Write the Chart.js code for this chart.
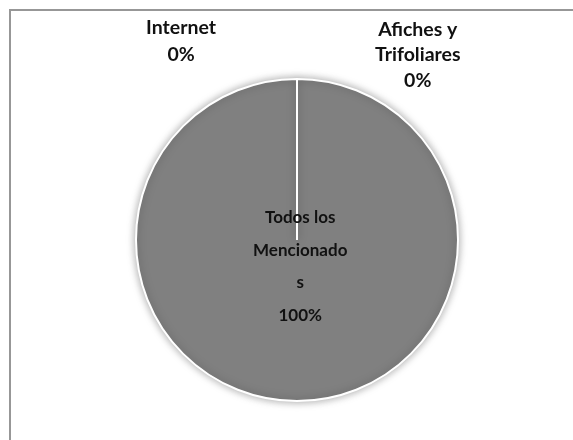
<!DOCTYPE html>
<html>
<head>
<meta charset="utf-8">
<script src="https://cdn.jsdelivr.net/npm/chart.js@4/dist/chart.umd.min.js"></script>
<style>
  html, body { margin: 0; padding: 0; background: #fff; overflow: hidden; }
  #frame {
    position: absolute; left: 9px; top: 9px; width: 620px; height: 480px;
    border: 2px solid #979797; box-sizing: border-box;
  }
  #wrap { position: absolute; left: 0; top: 0; width: 573px; height: 440px; }
</style>
</head>
<body>
<div id="frame"></div>
<div id="wrap"><canvas id="myChart"></canvas></div>
<script>
const categories = ['Internet', 'Afiches y Trifoliares', 'Todos los Mencionados']
const values = [0, 0, 100]
const percentLabels = ['0%', '0%', '100%']
// label text as it wraps on the chart
const labelLines = [
    ['Internet', '0%'],
    ['Afiches y', 'Trifoliares', '0%'],
    ['Todos los', 'Mencionado', 's', '100%']
]

// soft halo round the pie
const pieShadow = {
    id: 'pieShadow',
    beforeDatasetDraw(chart) {
        const ctx = chart.ctx
        ctx.save()
        ctx.shadowColor = 'rgba(0, 0, 0, 0.35)'
        ctx.shadowBlur = 9
    },
    afterDatasetDraw(chart) {
        chart.ctx.restore()
    }
}

// data labels, placed relative to the pie centre
const sliceLabels = {
    id: 'sliceLabels',
    afterDraw(chart, args, opts) {
        const ctx = chart.ctx
        const arcs = chart.getDatasetMeta(0).data
        ctx.save()
        ctx.fillStyle = '#111'
        ctx.textAlign = 'center'
        ctx.textBaseline = 'middle'
        arcs.forEach((arc, i) => {
            const a = opts.anchors[i]
            const lines = labelLines[i]
            ctx.font = 'bold ' + a.size + 'px Lato'
            const x = arc.x + a.dx * arc.outerRadius
            const y = arc.y + a.dy * arc.outerRadius
            const top = y - (lines.length - 1) * a.lh / 2
            lines.forEach((t, j) => ctx.fillText(t, x, top + j * a.lh))
        })
        ctx.restore()
    }
}

new Chart(document.getElementById('myChart').getContext('2d'), {
    type: 'pie',
    data: {
        labels: categories,
        datasets: [{
            data: values,
            backgroundColor: '#808080',
            borderColor: '#ffffff',
            borderWidth: 2
        }]
    },
    options: {
        responsive: true,
        maintainAspectRatio: false,
        animation: false,
        layout: { padding: { left: 135, right: 114, top: 78, bottom: 38 } },
        plugins: {
            legend: { display: false },
            tooltip: { enabled: false },
            sliceLabels: {
                anchors: [
                    { dx: -0.72, dy: -1.235, lh: 27, size: 19.5 },
                    { dx: 0.75, dy: -1.15, lh: 25.5, size: 19.5 },
                    { dx: 0.02, dy: 0.165, lh: 32.5, size: 17 }
                ]
            }
        }
    },
    plugins: [pieShadow, sliceLabels]
})
</script>
</body>
</html>
